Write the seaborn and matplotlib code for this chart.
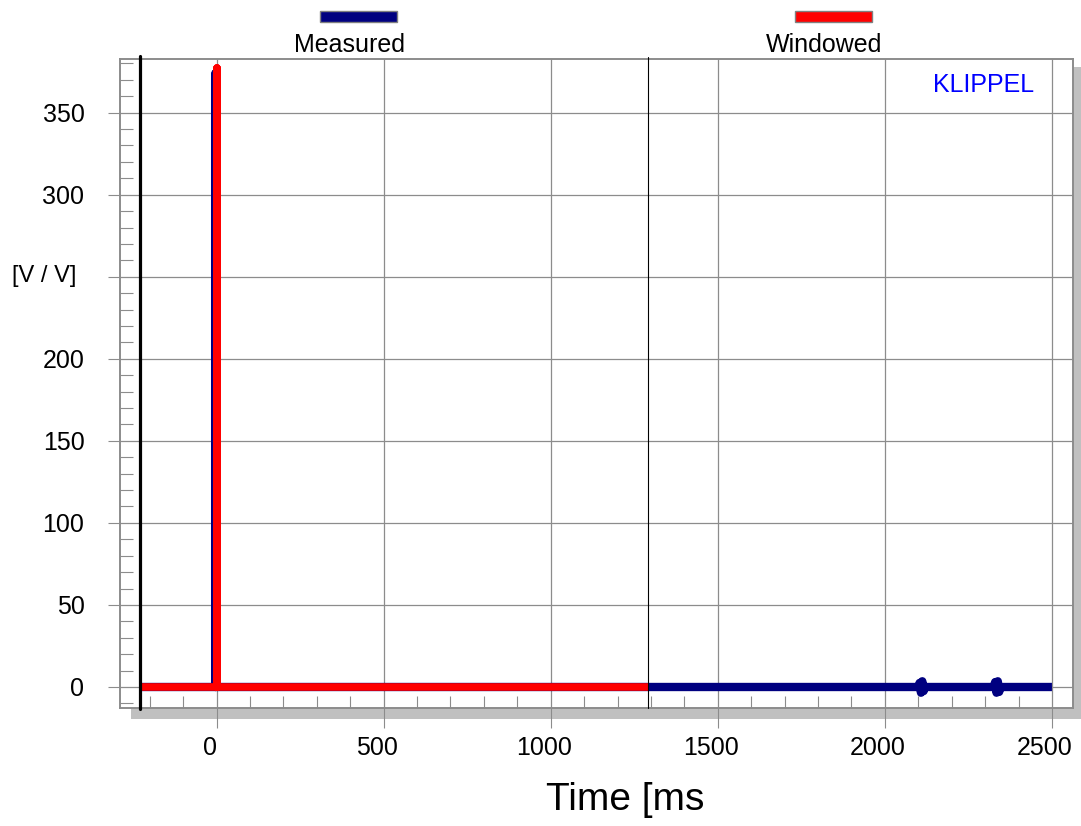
# -*- coding: utf-8 -*-
import numpy as np
import pandas as pd
import seaborn as sns
import matplotlib.pyplot as plt
import matplotlib.transforms as mtransforms
from matplotlib.patches import Rectangle
from matplotlib.ticker import MultipleLocator

# measured impulse response [ms], [V/V]
measured_t = [-229, -3, -3, -3, 2100, 2104, 2108, 2112, 2116, 2120,
              2326, 2330, 2334, 2338, 2342, 2346, 2500]
measured_v = [0, 0, 374, 0, 0, 2.5, -3.5, 3.5, -2.5, 0,
              0, 3, -3.5, 3.5, -3, 0, 0]

# windowed impulse response
windowed_t = [-229, 1, 1, 1, 1292]
windowed_v = [0, 0, 377, 0, 0]

window_start = -229
window_end = 1292

x_ticks = [0, 500, 1000, 1500, 2000, 2500]
y_ticks = [0, 50, 100, 150, 200, 250, 300, 350]
y_ticklabels = ['0', '50', '100', '150', '200', '', '300', '350']

W, H = 1081, 826
GRID = '#8c8c8c'

sns.set_theme(style='white', rc={'text.color': 'black', 'xtick.labelcolor': 'black',
                                 'ytick.labelcolor': 'black'})
plt.rcParams['font.family'] = ['Liberation Sans', 'DejaVu Sans']

fig = plt.figure(figsize=(W / 100, H / 100), dpi=100)
ax = fig.add_axes([120 / W, 1 - 708 / H, (1073 - 120) / W, (708 - 59) / H])

# drop shadow behind the plot frame
fig.patches.append(Rectangle((131 / W, 1 - 719 / H), (W - 131) / W, (719 - 67) / H,
                             transform=fig.transFigure, facecolor='#c0c0c0',
                             edgecolor='none', zorder=-1))

df_m = pd.DataFrame({'t': measured_t, 'v': measured_v})
df_w = pd.DataFrame({'t': windowed_t, 'v': windowed_v})

sns.lineplot(data=df_m, x='t', y='v', ax=ax, sort=False, estimator=None,
             color='#000080', lw=6, solid_joinstyle='round', solid_capstyle='butt', zorder=3)
sns.lineplot(data=df_w, x='t', y='v', ax=ax, sort=False, estimator=None,
             color='#ff0000', lw=5.5, solid_joinstyle='round', solid_capstyle='butt', zorder=4)

ax.axvline(window_start, ymin=-0.002, ymax=1.005, color='black', lw=2.3, clip_on=False, zorder=5)
ax.axvline(window_end, ymin=0, ymax=1.003, color='black', lw=0.8, clip_on=False, zorder=5)

ax.set_xlim(-289, 2563)
ax.set_ylim(-12.8, 382.7)
ax.set_xticks(x_ticks)
ax.set_xticklabels([str(v) for v in x_ticks])
ax.set_yticks(y_ticks)
ax.set_yticklabels(y_ticklabels)
ax.xaxis.set_minor_locator(MultipleLocator(100))
ax.yaxis.set_minor_locator(MultipleLocator(10))

ax.grid(True, which='major', color=GRID, lw=0.9)
ax.tick_params(axis='x', which='major', direction='out', length=14.4, width=0.8,
               color=GRID, labelsize=18, pad=6, bottom=True, labelcolor='black')
ax.tick_params(axis='y', which='major', direction='out', length=8.6, width=0.8,
               color=GRID, labelsize=18, pad=17, left=True, labelcolor='black')
ax.tick_params(axis='both', which='minor', direction='in', length=9, width=0.8,
               color=GRID, bottom=True, left=True)
for lab in ax.get_xticklabels():
    lab.set_transform(lab.get_transform() + mtransforms.ScaledTranslation(-7 / 100, 0, fig.dpi_scale_trans))

for sp in ax.spines.values():
    sp.set_color(GRID)
    sp.set_linewidth(1.4)
ax.set_xlabel('')
ax.set_ylabel('')
ax.set_facecolor('white')

fig.text(12 / W, 1 - 276 / H, '[V / V]', fontsize=17, ha='left', va='center', color='black')
fig.text(625 / W, 1 - 800 / H, 'Time [ms', fontsize=28, ha='center', va='center', color='black')
fig.text(933 / W, 1 - 85 / H, 'KLIPPEL', fontsize=18, color='#0000ff', ha='left', va='center')

# legend: coloured bar above the name
for x0, name, col in [(320, 'Measured', '#000080'), (795, 'Windowed', '#ff0000')]:
    fig.patches.append(Rectangle((x0 / W, 1 - 22 / H), 77 / W, 11 / H,
                                 transform=fig.transFigure, facecolor=col,
                                 edgecolor='#808080', lw=1))
    fig.text((x0 + 29) / W, 1 - 45 / H, name, fontsize=18, ha='center', va='center', color='black')

plt.savefig('out.png', dpi=100)
